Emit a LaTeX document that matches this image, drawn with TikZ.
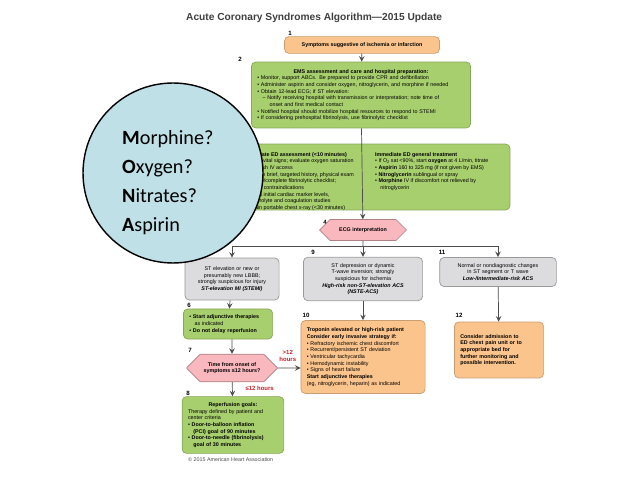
\documentclass[tikz,border=0pt]{standalone}
\usepackage{fontspec}
\setmainfont{Liberation Sans}
\newfontfamily\calib{Carlito}
\usetikzlibrary{arrows,positioning,shapes.geometric,shapes.misc,calc}
\definecolor{gfill}{RGB}{168,207,110}
\definecolor{ofill}{RGB}{250,196,140}
\definecolor{grfill}{RGB}{220,220,222}
\definecolor{pfill}{RGB}{248,184,190}
\definecolor{cfill}{RGB}{190,224,230}
\definecolor{hrs}{RGB}{200,30,40}
\tikzset{
  tiny/.style={font=\fontsize{3.05}{3.8}\selectfont},
  gbox/.style={tiny,draw=gfill!80!black,thin,fill=gfill,rounded corners=2.5pt,align=left},
  obox/.style={tiny,draw=ofill!80!black,thin,fill=ofill,rounded corners=2.5pt,align=left},
  grbox/.style={tiny,draw=grfill!70!black,thin,fill=grfill,rounded corners=2.5pt,align=center},
  hexbox/.style={tiny,draw=pfill!70!black,thin,fill=pfill,chamfered rectangle,chamfered rectangle xsep=4pt,inner ysep=1pt},
  num/.style={font=\fontsize{3.5}{4}\selectfont\bfseries},
  arr/.style={->,>=stealth,thin,draw=black!70},
}
\begin{document}
\begin{tikzpicture}[x=0.02cm,y=-0.02cm]
\useasboundingbox[fill=white] (0,0) rectangle (638,479);

\node[anchor=west,font=\fontsize{5.8}{7}\selectfont\bfseries,text=black!75] (title) at (180,18) {Acute Coronary Syndromes Algorithm---2015 Update};

\node[num] at (290,33) {1};
\node[obox,minimum width=3.1cm,minimum height=0.28cm,align=center] (symp) at (362,45) {\bfseries Symptoms suggestive of ischemia or infarction};

\node[num] at (240,59) {2};
\node[gbox,minimum width=4.36cm,minimum height=1.32cm,text width=4.15cm] (ems) at (361,95) {%
\centerline{\bfseries EMS assessment and care and hospital preparation:}
\textbullet\ Monitor, support ABCs. Be prepared to provide CPR and defibrillation\\
\textbullet\ Administer aspirin and consider oxygen, nitroglycerin, and morphine if needed\\
\textbullet\ Obtain 12-lead ECG; if ST elevation:\\
\hspace*{3pt}-- Notify receiving hospital with transmission or interpretation; note time of\\
\hspace*{7pt}onset and first medical contact\\
\textbullet\ Notified hospital should mobilize hospital resources to respond to STEMI\\
\textbullet\ If considering prehospital fibrinolysis, use fibrinolytic checklist};

\node[gbox,minimum width=6.6cm,minimum height=1.32cm] (ed) at (345,177) {};
\node[tiny,anchor=north east,align=left] (edl) at (360,146) {%
{\bfseries Immediate ED assessment (\textless10 minutes)}\\
\textbullet\ Check vital signs; evaluate oxygen saturation\\
\textbullet\ Establish IV access\\
\textbullet\ Perform brief, targeted history, physical exam\\
\textbullet\ Review/complete fibrinolytic checklist;\\
\hspace*{3pt}check contraindications\\
\textbullet\ Obtain initial cardiac marker levels,\\
\hspace*{3pt}electrolyte and coagulation studies\\
\textbullet\ Obtain portable chest x-ray (\textless30 minutes)};
\node[tiny,anchor=north west,align=left] (edr) at (369,146) {%
{\bfseries Immediate ED general treatment}\\
\textbullet\ If O\raisebox{-0.4pt}{\fontsize{2.2}{2.5}\selectfont 2} sat \textless90\%, start \textbf{oxygen} at 4 L/min, titrate\\
\textbullet\ \textbf{Aspirin} 160 to 325 mg (if not given by EMS)\\
\textbullet\ \textbf{Nitroglycerin} sublingual or spray\\
\textbullet\ \textbf{Morphine} IV if discomfort not relieved by\\
\hspace*{3pt}nitroglycerin};

\node[num] at (325,222) {4};
\node[hexbox,minimum width=1.74cm,minimum height=0.32cm] (ecg) at (363,230) {\bfseries ECG interpretation};
\coordinate (split) at (363,246);

\node[num] at (180,252) {5};
\node[grbox,minimum width=1.7cm,minimum height=0.84cm,text width=1.65cm] (stemi) at (232,279) {ST elevation or new or presumably new LBBB; strongly suspicious for injury\\\textbf{\itshape ST-elevation MI (STEMI)}};
\node[num] at (313,252) {9};
\node[grbox,minimum width=2.26cm,minimum height=0.84cm,text width=2.15cm] (nste) at (363,279) {ST depression or dynamic\\T-wave inversion; strongly\\suspicious for ischemia\\\textbf{\itshape High-risk non-ST-elevation ACS}\\\textbf{\itshape (NSTE-ACS)}};
\node[num] at (442,252) {11};
\node[grbox,minimum width=2.22cm,minimum height=0.56cm,text width=2.1cm] (low) at (498,272) {Normal or nondiagnostic changes in ST segment or T wave\\\textbf{\itshape Low-/Intermediate-risk ACS}};

\node[num] at (189,305) {6};
\node[gbox,minimum width=1.7cm,minimum height=0.56cm,text width=1.55cm] (adj) at (228,324) {\textbf{\textbullet\ Start adjunctive therapies}\\\hspace*{3pt}as indicated\\\textbf{\textbullet\ Do not delay reperfusion}};

\node[num] at (190,350) {7};
\node[hexbox,minimum width=1.8cm,minimum height=0.32cm,align=center] (time) at (232,368) {\bfseries Time from onset of\\\bfseries symptoms ≤12 hours?};

\node[num] at (306,315) {10};
\node[obox,minimum width=2.4cm,minimum height=1.46cm,text width=2.25cm] (trop) at (363,357) {%
\textbf{Troponin elevated or high-risk patient}\\
\textbf{Consider early invasive strategy if:}\\
\textbullet\ Refractory ischemic chest discomfort\\
\textbullet\ Recurrent/persistent ST deviation\\
\textbullet\ Ventricular tachycardia\\
\textbullet\ Hemodynamic instability\\
\textbullet\ Signs of heart failure\\
\textbf{Start adjunctive therapies}\\
(eg, nitroglycerin, heparin) as indicated};

\node[num] at (459,315) {12};
\node[obox,minimum width=1.74cm,minimum height=1.12cm,text width=1.55cm] (admit) at (499,350) {\bfseries Consider admission to\\ED chest pain unit or to\\appropriate bed for\\further monitoring and\\possible intervention.};

\node[num] at (188,393) {8};
\node[gbox,minimum width=1.96cm,minimum height=1.08cm,text width=1.8cm] (reperf) at (233,425) {%
\centerline{\bfseries Reperfusion goals:}
Therapy defined by patient and\\center criteria\\
\textbf{\textbullet\ Door-to-balloon inflation}\\
\hspace*{3pt}\textbf{(PCI) goal of 90 minutes}\\
\textbf{\textbullet\ Door-to-needle (fibrinolysis)}\\
\hspace*{3pt}\textbf{goal of 30 minutes}};

\node[tiny,anchor=west,text=black!70] (copy) at (182,460) {\textcopyright\ 2015 American Heart Association};

% connectors
\draw[arr] (symp) -- (ems);
\draw[arr] (ems) -- (ecg);
\draw[thin,draw=black!70] (ecg) -- (split);
\draw[arr] (split) -| (stemi);
\draw[arr] (split) -- (nste);
\draw[arr] (split) -| (low);
\draw[arr] (stemi) -- (adj);
\draw[arr] (adj.south -| time) -- (time);
\draw[arr] (time) -- (time -| trop.west) node[pos=0.45,above,font=\fontsize{3.4}{4}\selectfont\bfseries,text=hrs,align=center] {>12\\hours};
\draw[arr] (time) -- (reperf) node[pos=0.45,right=4pt,font=\fontsize{3.4}{4}\selectfont\bfseries,text=hrs] {≤12 hours};
\draw[arr] (nste) -- (trop);
\draw[arr] (low) -- (admit);

% overlay
\node[circle,draw=black,thick,fill=cfill,minimum size=3.6cm] (bubble) at (173,173) {};
\node[anchor=west,font=\calib\fontsize{11.5}{16.5}\selectfont,align=left] (qs) at (116,183) {\textbf{M}orphine?\\\textbf{O}xygen?\\\textbf{N}itrates?\\\textbf{A}spirin};
\end{tikzpicture}
\end{document}
